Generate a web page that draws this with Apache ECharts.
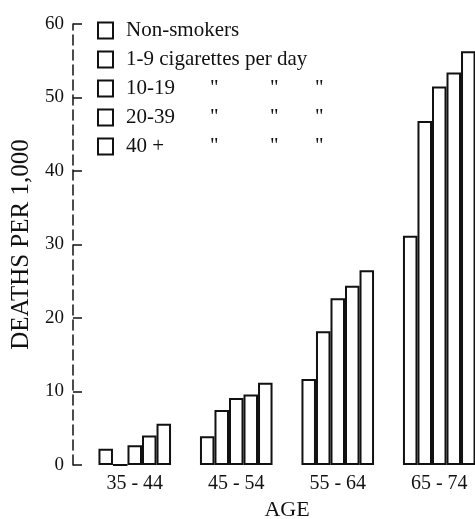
<!DOCTYPE html>
<html><head><meta charset="utf-8">
<script src="https://cdn.jsdelivr.net/npm/echarts@6/dist/echarts.min.js"></script>
<style>html,body{margin:0;padding:0;background:#fff;overflow:hidden}#c{width:475px;height:519px}</style>
</head><body><div id="c"></div>
<script>
const ageGroups = ['35-44', '45-54', '55-64', '65-74'];
const seriesNames = ['Non-smokers', '1-9 cigarettes per day', '10-19', '20-39', '40 +'];
const nonSmokers = [2.2, 3.9, 11.7, 31.2];
const light = [0, 7.5, 18.2, 46.8];
const moderate = [2.7, 9.1, 22.7, 51.5];
const heavy = [4.0, 9.6, 24.4, 53.4];
const veryHeavy = [5.6, 11.2, 26.5, 56.3];
const yTicks = [0, 10, 20, 30, 40, 50, 60];

const FONT = "'Liberation Serif','DejaVu Serif',serif";
const values = [nonSmokers, light, moderate, heavy, veryHeavy];
const chart = echarts.init(document.getElementById('c'), null, {renderer: 'canvas'});
chart.setOption({
  backgroundColor: '#fff',
  animation: false,
  legend: {
    orient: 'vertical', left: 92, top: 15, itemWidth: 15, itemHeight: 16, itemGap: 8,
    icon: 'rect',
    data: seriesNames,
    formatter: function (name) {
      if (name === 'Non-smokers' || name.indexOf('cigarettes') >= 0) return '{t|' + name + '}';
      return '{a|' + name + '}{b|"}{d|"}{c|"}';
    },
    textStyle: {fontFamily: FONT, fontSize: 21, color: '#111', lineHeight: 21, padding: [0, 0, 0, 8],
      rich: {
        t: {fontFamily: FONT, fontSize: 21, color: '#111'},
        a: {fontFamily: FONT, fontSize: 21, color: '#111', width: 84},
        b: {fontFamily: FONT, fontSize: 21, color: '#111', width: 60},
        d: {fontFamily: FONT, fontSize: 21, color: '#111', width: 45},
        c: {fontFamily: FONT, fontSize: 21, color: '#111', width: 15}
      }}
  },
  grid: {left: 84, top: 24, height: 441, width: 406, outerBoundsMode: 'none', containLabel: false},
  xAxis: {
    type: 'category', data: ageGroups,
    axisLine: {show: false}, axisTick: {show: false},
    axisLabel: {fontFamily: FONT, fontSize: 20, color: '#111', margin: 9,
      formatter: v => v.replace('-', ' - ')},
    name: 'AGE', nameLocation: 'middle', nameGap: 32,
    nameTextStyle: {fontFamily: FONT, fontSize: 22, color: '#111'}
  },
  yAxis: {
    type: 'value', min: 0, max: 60, interval: 10, offset: 11,
    splitLine: {show: false},
    axisLine: {show: true, lineStyle: {color: '#111', width: 1.5, type: [10, 5]}},
    axisTick: {show: true, inside: true, length: 9, lineStyle: {color: '#111', width: 1.5}},
    axisLabel: {fontFamily: FONT, fontSize: 19, color: '#111', margin: 9,
      formatter: v => yTicks.includes(v) ? String(v) : ''},
    name: 'DEATHS PER 1,000', nameLocation: 'middle', nameGap: 35, nameRotate: 90,
    nameTextStyle: {fontFamily: FONT, fontSize: 25, color: '#111'}
  },
  series: seriesNames.map((n, i) => ({
    name: n, type: 'bar', data: values[i],
    barGap: '0%', barCategoryGap: '28.5%',
    itemStyle: {color: '#fff', borderColor: '#111', borderWidth: 2}
  }))
});
</script></body></html>
